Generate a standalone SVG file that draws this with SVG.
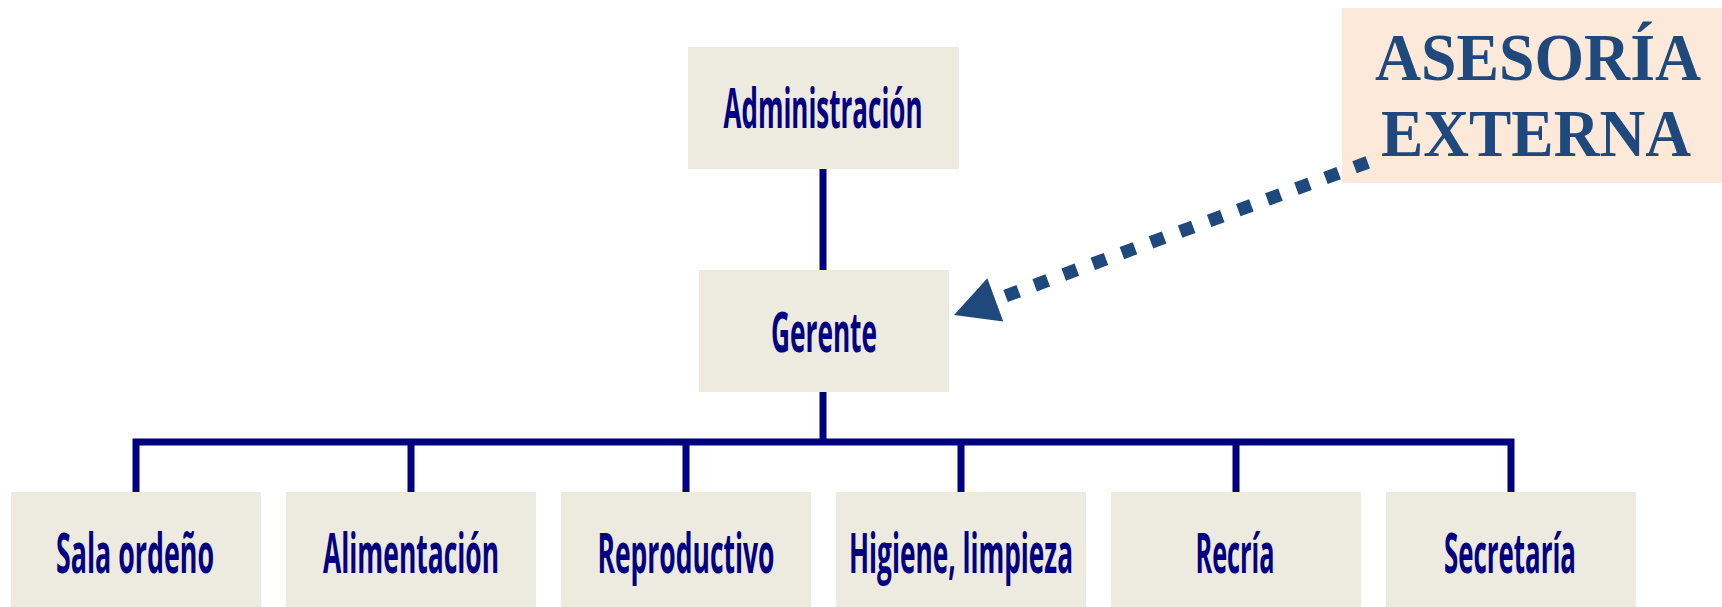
<svg xmlns="http://www.w3.org/2000/svg" width="1722" height="607" viewBox="0 0 1722 607">
<style>
.box{fill:#EDEBE0}
.lbl{font-family:"Open Sans","Liberation Sans",sans-serif;font-weight:bold;font-size:56px;fill:#000080;text-anchor:middle}
.conn{fill:none;stroke:#000080;stroke-width:7;stroke-linejoin:miter}
.ext{font-family:"Liberation Serif","Times New Roman",serif;font-weight:bold;font-size:68px;fill:#1F497D;text-anchor:middle}
</style>
<defs>
<marker id="ah" markerUnits="userSpaceOnUse" markerWidth="44" markerHeight="46" refX="0" refY="23" orient="auto" overflow="visible">
<path d="M0,0 L44,23 L0,46 z" fill="#1F497D"/>
</marker>
</defs>
<rect width="1722" height="607" fill="#FFFFFF"/>
<g id="administracion">
<rect class="box" x="688" y="47" width="271" height="122"/>
<text class="lbl" x="823" y="128" textLength="199" lengthAdjust="spacingAndGlyphs">Administración</text>
</g>
<g id="gerente">
<rect class="box" x="699" y="270" width="250" height="122"/>
<text class="lbl" x="824" y="352" textLength="106" lengthAdjust="spacingAndGlyphs">Gerente</text>
</g>
<g id="asesoria">
<rect x="1342" y="8" width="380" height="175" fill="#FDE9D9"/>
<text class="ext" x="1538" y="80" textLength="326" lengthAdjust="spacingAndGlyphs">ASESORÍA</text>
<text class="ext" x="1536" y="156" textLength="310" lengthAdjust="spacingAndGlyphs">EXTERNA</text>
</g>
<g id="sala">
<rect class="box" x="11" y="492" width="250" height="115"/>
<text class="lbl" x="135" y="573" textLength="158" lengthAdjust="spacingAndGlyphs">Sala ordeño</text>
</g>
<g id="alimentacion">
<rect class="box" x="286" y="492" width="250" height="115"/>
<text class="lbl" x="411" y="573" textLength="176" lengthAdjust="spacingAndGlyphs">Alimentación</text>
</g>
<g id="reproductivo">
<rect class="box" x="561" y="492" width="250" height="115"/>
<text class="lbl" x="686" y="573" textLength="177" lengthAdjust="spacingAndGlyphs">Reproductivo</text>
</g>
<g id="higiene">
<rect class="box" x="836" y="492" width="250" height="115"/>
<text class="lbl" x="961" y="573" textLength="224" lengthAdjust="spacingAndGlyphs">Higiene, limpieza</text>
</g>
<g id="recria">
<rect class="box" x="1111" y="492" width="250" height="115"/>
<text class="lbl" x="1235" y="573" textLength="79" lengthAdjust="spacingAndGlyphs">Recría</text>
</g>
<g id="secretaria">
<rect class="box" x="1386" y="492" width="250" height="115"/>
<text class="lbl" x="1510" y="573" textLength="132" lengthAdjust="spacingAndGlyphs">Secretaría</text>
</g>
<g id="connectors">
<path class="conn" d="M823,169 V270"/>
<path class="conn" d="M823,392 V442"/>
<path class="conn" d="M136,492 V442 H1511 V492"/>
<path class="conn" d="M411,442 V492 M686,442 V492 M961,442 V492 M1236,442 V492"/>
<path d="M1367.7,162.4 L995.3,299.8" fill="none" stroke="#1F497D" stroke-width="13" stroke-dasharray="14 17" marker-end="url(#ah)"/>
</g>
</svg>
